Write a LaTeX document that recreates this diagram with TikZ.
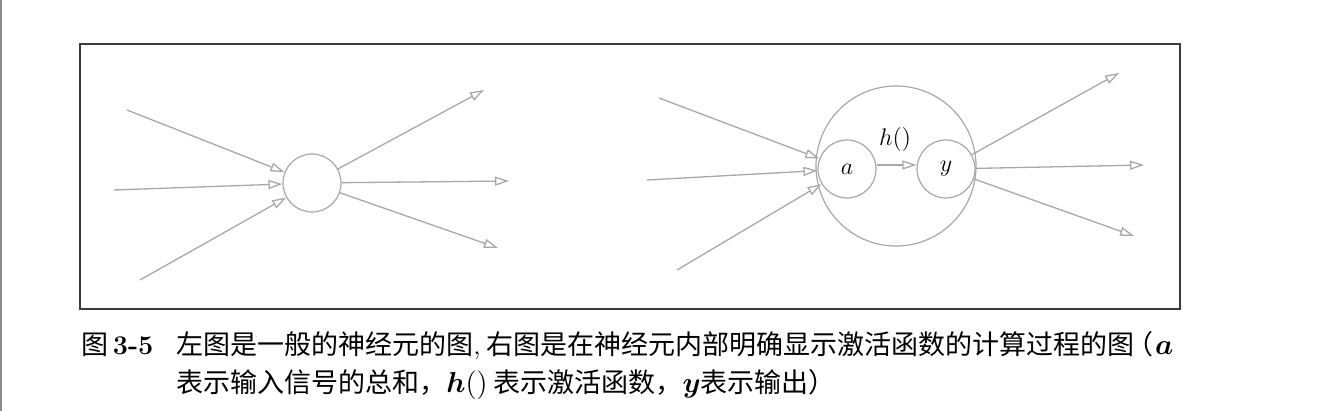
\documentclass[tikz,border=0pt]{standalone}
\usepackage{bm}
\usepackage{fontspec}
\newfontfamily\cjk{Noto Sans CJK SC}
\usetikzlibrary{arrows.meta}
\definecolor{linegray}{RGB}{168,168,170}
\definecolor{framegray}{RGB}{60,60,60}
\definecolor{edgegray}{RGB}{140,140,140}
\tikzset{
  neuron/.style={circle, draw=linegray, line width=0.6pt, inner sep=0pt, minimum size=#1},
  sig/.style={draw=linegray, line width=0.65pt, -{Triangle[open, length=7pt, width=4.5pt]}},
  lbl/.style={font=\fontsize{13pt}{15pt}\selectfont, inner sep=0pt},
  captext/.style={font=\fontsize{13.5pt}{16pt}\selectfont, inner sep=0pt, anchor=base west},
}
\begin{document}
\begin{tikzpicture}[x=0.5pt, y=-0.5pt]
\useasboundingbox (0,0) rectangle (1331,411);
\draw[edgegray, line width=1pt] (1,0) -- (1,411);
\draw[framegray, line width=0.8pt] (80,44) rectangle (1180,309);

% left neuron
\node[neuron=29pt] (c) at (312,183) {};
\coordinate (li1) at (127,110);
\coordinate (li2) at (114,190);
\coordinate (li3) at (140,280);
\coordinate (lo1) at (484,90);
\coordinate (lo2) at (509,181);
\coordinate (lo3) at (498,248);
\draw[sig] (li1) -- (c);
\draw[sig] (li2) -- (c);
\draw[sig] (li3) -- (c);
\draw[sig] (c) -- (lo1);
\draw[sig] (c) -- (lo2);
\draw[sig] (c) -- (lo3);

% right neuron
\node[neuron=80pt] (big) at (896,166) {};
\node[neuron=29pt, lbl] (a) at (847,169) {$a$};
\node[neuron=29pt, lbl] (y) at (946,169) {$y$};
\node[lbl] (h) at (895,140) {$h()$};
\coordinate (ri1) at (659,98);
\coordinate (ri2) at (647,180);
\coordinate (ri3) at (677,270);
\coordinate (ro1) at (1119,73);
\coordinate (ro2) at (1144,165);
\coordinate (ro3) at (1134,236);
\draw[sig] (ri1) -- (a);
\draw[sig] (ri2) -- (a);
\draw[sig] (ri3) -- (a);
\draw[sig] ([yshift=2pt]a.east) -- ([yshift=2pt]y.west);
\draw[sig] (y) -- (ro1);
\draw[sig] (y) -- (ro2);
\draw[sig] (y) -- (ro3);

% caption
\node[captext] (fig) at (81,354) {{\cjk 图}\,\textbf{3-5}};
\node[captext] (l1) at (176,354) {\cjk 左图是一般的神经元的图{\rmfamily ,} 右图是在神经元内部明确显示激活函数的计算过程的图\kern-0.3em（\kern0.05em$\bm{a}$};
\node[captext] (l2) at (176,392) {\cjk 表示输入信号的总和，$\bm{h}()$ 表示激活函数，$\bm{y}$表示输出）};
\end{tikzpicture}
\end{document}
